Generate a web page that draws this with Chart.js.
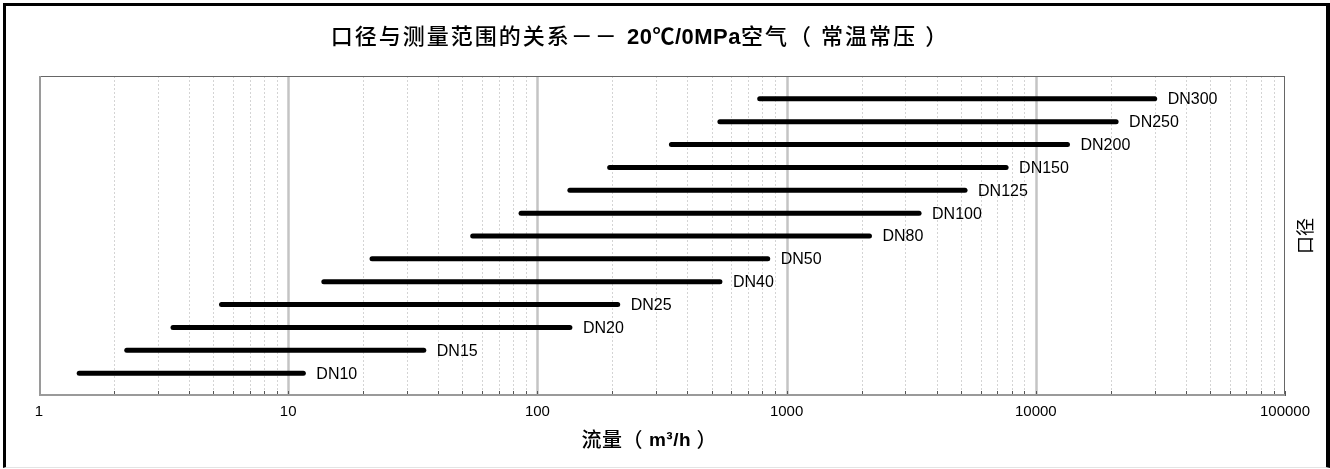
<!DOCTYPE html>
<html>
<head>
<meta charset="utf-8">
<script src="https://cdn.jsdelivr.net/npm/chart.js@4.4.1/dist/chart.umd.min.js"></script>
<style>
  html, body { margin: 0; padding: 0; background: #fff; }
  #frame {
    position: absolute; left: 3px; top: 3px; width: 1327px; height: 465px;
    border-left: 3px solid #000; border-top: 3px solid #000; border-right: 4px solid #000;
    border-bottom: 1px solid #e4e4e4; box-sizing: border-box;
  }
  #wrap { position: absolute; left: 0; top: 0; width: 1330px; height: 469px; }
</style>
</head>
<body>
<div id="frame"></div>
<div id="wrap"><canvas id="range-chart"></canvas></div>
<script>
const categories = ["DN10", "DN15", "DN20", "DN25", "DN40", "DN50", "DN80", "DN100", "DN125", "DN150", "DN200", "DN250", "DN300"];
const minFlow = [1.45, 2.25, 3.45, 5.4, 13.9, 21.7, 55, 86, 135, 195, 345, 540, 780];
const maxFlow = [11.5, 35, 135, 210, 540, 840, 2150, 3400, 5200, 7600, 13400, 21000, 30000];
const tickLabels = ["1", "10", "100", "1000", "10000", "100000"];
const minorSteps = [2, 3, 4, 5, 6, 7, 8, 9];

const latin = '"Liberation Sans", Arial, "Noto Sans CJK SC", sans-serif';
const cjk = '"Noto Sans CJK SC", "Liberation Sans", sans-serif';

// title text split in runs: [text, weight, size, letter spacing]
const titleRuns = [
  ["口径与测量范围的关系－－ ", "500", 22, 2],
  ["20℃/0MPa", "bold", 22, 0.5],
  ["空气（ 常温常压 ）", "500", 22, 2],
];
const xTitleRuns = [
  ["流量（ ", "500", 20, 0.5],
  ["m³/h", "bold", 19, 0.5],
  [" ）", "500", 20, 0],
];

// one line per size, drawn as a thick round-capped segment
const datasets = categories.map((name, i) => ({
  label: name,
  data: [
    { x: minFlow[i], y: i + 1 },
    { x: maxFlow[i], y: i + 1 },
  ],
  borderColor: "#000",
  borderWidth: 5,
  borderCapStyle: "round",
  pointRadius: 0,
  tension: 0,
}));

function drawRuns(ctx, runs, cx, cy) {
  ctx.save();
  ctx.textBaseline = "middle";
  ctx.textAlign = "left";
  let total = 0;
  const widths = runs.map(([txt, w, size, sp]) => {
    ctx.font = w + " " + size + "px " + latin;
    ctx.letterSpacing = sp + "px";
    const m = ctx.measureText(txt).width;
    total += m;
    return m;
  });
  let x = cx - total / 2;
  runs.forEach(([txt, w, size, sp], i) => {
    ctx.font = w + " " + size + "px " + latin;
    ctx.letterSpacing = sp + "px";
    ctx.fillText(txt, x, cy);
    x += widths[i];
  });
  ctx.restore();
}

const gridPlugin = {
  id: "logGrid",
  beforeDatasetsDraw(chart) {
    const { ctx, chartArea: a, scales } = chart;
    const x = scales.x;
    ctx.save();
    x.ticks.forEach((t) => {
      const px = Math.round(x.getPixelForValue(t.value)) + 0.5;
      const major = tickLabels.includes(String(t.value));
      if (px <= a.left + 1 || px >= a.right - 1) return;
      ctx.beginPath();
      if (major) {
        ctx.strokeStyle = "#c4c4c4";
        ctx.lineWidth = 2.5;
        ctx.setLineDash([]);
      } else {
        ctx.strokeStyle = "#d4d4d4";
        ctx.lineWidth = 1;
        ctx.setLineDash([2, 2]);
      }
      ctx.moveTo(px, a.top);
      ctx.lineTo(px, a.bottom);
      ctx.stroke();
    });
    // small ticks on the inside of the bottom axis
    ctx.setLineDash([]);
    ctx.strokeStyle = "#555";
    ctx.lineWidth = 1;
    x.ticks.forEach((t) => {
      const px = Math.round(x.getPixelForValue(t.value)) + 0.5;
      ctx.beginPath();
      ctx.moveTo(px, a.bottom);
      ctx.lineTo(px, a.bottom - 5);
      ctx.stroke();
    });
    // plot frame
    ctx.strokeStyle = "#666";
    ctx.lineWidth = 1;
    ctx.strokeRect(a.left + 0.5, a.top + 0.5, a.right - a.left - 1, a.bottom - a.top - 1);
    ctx.strokeStyle = "#9a9a9a";
    ctx.lineWidth = 2;
    ctx.beginPath();
    ctx.moveTo(a.left + 1, a.top);
    ctx.lineTo(a.left + 1, a.bottom - 1);
    ctx.lineTo(a.right, a.bottom - 1);
    ctx.stroke();
    ctx.restore();
  },
  afterDatasetsDraw(chart) {
    const { ctx } = chart;
    const a = chart.chartArea;
    ctx.save();
    ctx.fillStyle = "#000";
    ctx.font = "16px " + latin;
    ctx.textBaseline = "middle";
    ctx.textAlign = "left";
    chart.data.datasets.forEach((ds, i) => {
      const pt = chart.getDatasetMeta(i).data[1];
      ctx.fillText(ds.label, pt.x + 13, pt.y + 1);
    });
    // side label on the right
    ctx.font = "18px " + cjk;
    ctx.textAlign = "center";
    ctx.translate(a.right + 20, (a.top + a.bottom) / 2);
    ctx.rotate(-Math.PI / 2);
    ctx.fillText("口径", 0, 0);
    ctx.restore();

    ctx.fillStyle = "#000";
    drawRuns(ctx, titleRuns, 640, 38);
    drawRuns(ctx, xTitleRuns, 649, 441);
  },
};

new Chart(document.querySelector("#range-chart"), {
  type: "line",
  data: { datasets },
  options: {
    responsive: true,
    maintainAspectRatio: false,
    animation: false,
    layout: { padding: { left: 39, right: 45, top: 76, bottom: 0 } },
    plugins: {
      legend: { display: false },
      tooltip: { enabled: false },
      title: { display: false },
    },
    scales: {
      x: {
        type: "logarithmic",
        min: 1,
        max: 100000,
        afterBuildTicks(scale) {
          const ticks = [];
          tickLabels.forEach((lab, d) => {
            const base = Number(lab);
            ticks.push({ value: base });
            if (d < tickLabels.length - 1) minorSteps.forEach((m) => ticks.push({ value: base * m }));
          });
          scale.ticks = ticks;
        },
        afterFit(scale) { scale.height = 73; },
        grid: { display: false, drawTicks: false },
        border: { display: false },
        ticks: {
          autoSkip: false,
          maxRotation: 0,
          padding: 7,
          color: "#000",
          font: { family: latin, size: 15 },
          callback: (v) => (tickLabels.includes(String(v)) ? String(v) : ""),
        },
      },
      y: {
        type: "linear",
        min: 0,
        max: 14,
        display: false,
      },
    },
  },
  plugins: [gridPlugin],
});
</script>
</body>
</html>
